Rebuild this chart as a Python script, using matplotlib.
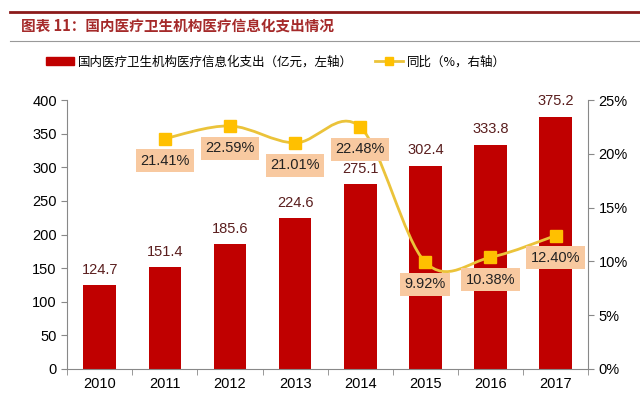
import matplotlib.pyplot as plt
import numpy as np
from matplotlib.path import Path
from matplotlib.patches import PathPatch
from matplotlib.lines import Line2D
from matplotlib.patches import Patch

plt.rcParams['font.family'] = ['Liberation Sans', 'Noto Sans CJK SC', 'DejaVu Sans']

years = ['2010', '2011', '2012', '2013', '2014', '2015', '2016', '2017']
spend = [124.7, 151.4, 185.6, 224.6, 275.1, 302.4, 333.8, 375.2]
yoy_years = ['2011', '2012', '2013', '2014', '2015', '2016', '2017']
yoy = [21.41, 22.59, 21.01, 22.48, 9.92, 10.38, 12.40]

bar_color = '#C00000'
line_color = '#EBC33A'
marker_color = '#FFC000'
box_color = '#F8C9A0'
cjk = ['Noto Sans CJK SC', 'DejaVu Sans']

fig = plt.figure(figsize=(6.4, 4.0), dpi=100)
ax = fig.add_axes([0.105, 0.0775, 0.814, 0.6725])
ax2 = ax.twinx()

x = np.arange(len(years))
ax.bar(x, spend, width=0.5, color=bar_color, zorder=2)
for xi, v in zip(x, spend):
    ax.annotate(f'{v:.1f}', (xi, v), xytext=(0, 6), textcoords='offset points',
                ha='center', va='bottom', fontsize=10.5, color='#5A1E1E')

ax.set_xlim(-0.5, len(years) - 0.5)
ax.set_ylim(0, 400)
ax.set_yticks(range(0, 401, 50))
ax.set_xticks(x)
ax.set_xticklabels(years)
ax.set_xticks(np.arange(-0.5, len(years), 1), minor=True)
ax.tick_params(axis='x', which='major', length=0, labelsize=10.5, pad=6)
ax.tick_params(axis='x', which='minor', length=4, color='#888888')
ax.tick_params(axis='y', length=4, color='#888888', labelsize=10.5)
for s in ['top', 'right']:
    ax.spines[s].set_visible(False)
ax.spines['left'].set_color('#888888')
ax.spines['bottom'].set_color('#888888')

# smooth line (Bezier through the data points)
xl = np.array([years.index(y) for y in yoy_years], dtype=float)
yl = np.array(yoy, dtype=float)
pts = np.column_stack([xl, yl])
verts = [pts[0]]
codes = [Path.MOVETO]
n = len(pts)
for i in range(n - 1):
    p0 = pts[max(i - 1, 0)]
    p1 = pts[i]
    p2 = pts[i + 1]
    p3 = pts[min(i + 2, n - 1)]
    c1 = p1 + (p2 - p0) / 6
    c2 = p2 - (p3 - p1) / 6
    verts += [c1, c2, p2]
    codes += [Path.CURVE4] * 3
ax2.add_patch(PathPatch(Path(verts, codes), fill=False, edgecolor=line_color, lw=2, zorder=3))
ax2.plot(xl, yl, ls='none', marker='s', ms=8, color=marker_color, zorder=4)
for xi, v in zip(xl, yl):
    ax2.annotate(f'{v:.2f}%', (xi, v), xytext=(0, -16), textcoords='offset points',
                 ha='center', va='center', fontsize=10.5, color='#222222', zorder=5,
                 bbox=dict(boxstyle='square,pad=0.3', fc=box_color, ec='none'))

ax2.set_ylim(0, 25)
ax2.set_yticks(range(0, 26, 5))
ax2.set_yticklabels([f'{v}%' for v in range(0, 26, 5)])
ax2.tick_params(axis='y', length=4, color='#888888', labelsize=10.5)
for s in ['top', 'left', 'bottom']:
    ax2.spines[s].set_visible(False)
ax2.spines['right'].set_color('#888888')

# header lines and title
fig.add_artist(Line2D([0.016, 1.0], [0.97, 0.97], color='#8B1A1A', lw=2))
fig.add_artist(Line2D([0.016, 1.0], [0.898, 0.898], color='#999999', lw=0.8))
fig.text(0.033, 0.937, '图表 11：国内医疗卫生机构医疗信息化支出情况', family=cjk,
         fontsize=10.5, fontweight='bold', style='italic', color='#A52A2A', va='center', ha='left')

handles = [Patch(color=bar_color),
           Line2D([], [], color=line_color, lw=2, marker='s', ms=6, mfc=marker_color, mec=marker_color)]
labels = ['国内医疗卫生机构医疗信息化支出（亿元，左轴）', '同比（%，右轴）']
fig.legend(handles, labels, loc='center left', bbox_to_anchor=(0.055, 0.845), ncol=2, frameon=False,
           prop={'family': cjk, 'size': 9}, handlelength=2.2, handleheight=0.6,
           columnspacing=1.8, handletextpad=0.3)

fig.savefig('out.png', dpi=100)
